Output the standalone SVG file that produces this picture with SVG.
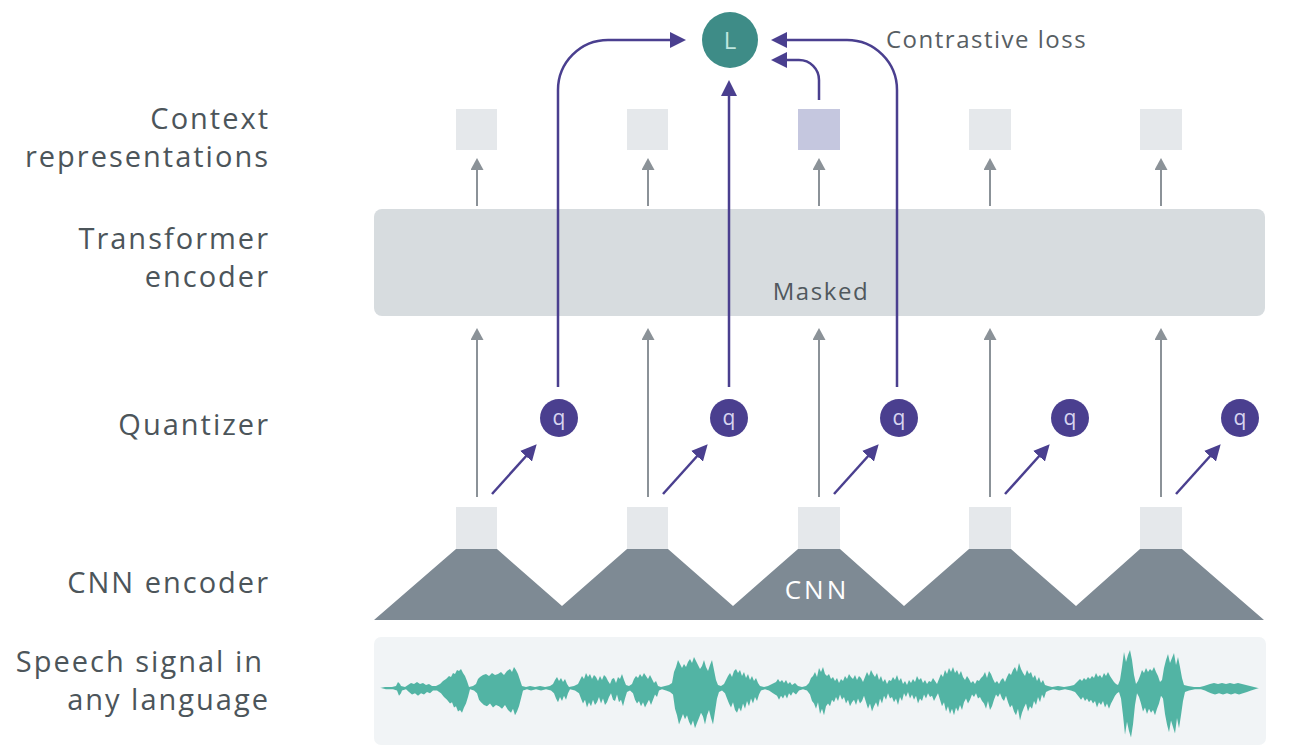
<svg xmlns="http://www.w3.org/2000/svg" width="1300" height="753" viewBox="0 0 1300 753">
<style>
.lbl{font-family:"Open Sans","Liberation Sans",sans-serif;font-size:29px;letter-spacing:2px;fill:#4c555a;text-anchor:end}
.ctx{fill:#e5e8eb}
.ga{stroke:#8b9298;stroke-width:2;fill:none;marker-end:url(#ag)}
.pa{stroke:#4a3f8f;stroke-width:2.5;fill:none;marker-end:url(#ap)}
.qc{fill:#4a3f8f}
.qt{font-family:"Open Sans","Liberation Sans",sans-serif;font-size:21px;fill:#d8d5f0;text-anchor:middle}
</style>
<defs>
<marker id="ag" viewBox="0 0 12 13" refX="2" refY="6.5" markerWidth="12" markerHeight="13" markerUnits="userSpaceOnUse" orient="auto"><path d="M0,0 L12,6.5 L0,13 z" fill="#8b9298"/></marker>
<marker id="ap" viewBox="0 0 16 16" refX="3" refY="8" markerWidth="16" markerHeight="16" markerUnits="userSpaceOnUse" orient="auto"><path d="M0,0 L16,8 L0,16 z" fill="#4a3f8f"/></marker>
<path id="wavehalf" d="M380,688 L385,687 392,687 396,686 398,682 400,684 401,686 405,687 408,685 411,683 414,684 417,682 420,684 423,683 426,685 429,684 432,686 436,686 440,684 443,681 446,679 449,676 451,677 453,673 455,674 457,670 459,671 461,669 463,673 465,676 467,681 469,687 473,686 476,684 478,679 480,677 483,675 486,674 489,676 492,673 495,675 498,674 501,672 504,675 507,671 510,669 512,672 514,667 516,670 518,674 520,680 522,686 526,687 530,686 535,687 540,686 545,687 550,686 553,684 555,680 557,677 559,681 561,678 563,682 565,679 567,684 569,687 574,686 578,684 580,680 582,676 584,679 586,673 588,677 590,674 592,679 594,675 596,677 598,681 600,676 602,680 604,675 606,677 608,681 610,684 612,679 614,678 616,683 618,677 620,679 622,674 624,680 626,685 629,686 632,684 634,679 636,676 638,678 640,674 642,677 644,673 646,676 648,679 650,675 652,679 654,683 656,681 658,686 661,687 665,686 669,685 672,683 674,672 676,667 678,660 680,664 682,668 684,664 686,667 688,662 690,659 692,663 694,657 696,661 698,665 700,669 702,666 704,660 706,667 708,671 710,665 712,660 714,670 716,680 718,685 721,686 724,684 726,680 728,676 730,673 732,677 734,671 736,669 738,673 740,670 742,676 744,672 746,678 748,674 750,680 752,676 754,681 756,678 758,683 760,686 764,687 768,686 772,684 776,682 778,679 780,682 782,680 784,683 786,680 788,684 790,682 792,685 795,683 798,686 802,687 806,686 809,683 811,678 813,676 815,672 817,677 819,668 821,672 823,667 825,674 827,676 829,674 831,679 833,677 835,681 837,678 839,683 841,679 843,681 845,676 847,679 849,674 851,677 853,679 855,675 857,680 859,676 861,678 863,682 865,677 867,672 869,676 871,670 873,674 875,677 877,673 879,680 881,676 883,682 885,679 887,684 889,680 891,681 893,677 895,680 897,675 899,681 901,678 903,684 905,681 907,685 909,680 911,683 913,679 915,682 917,676 919,680 921,678 923,683 925,680 927,684 929,681 931,682 933,678 935,681 937,684 939,679 941,674 943,677 945,670 947,674 949,668 951,672 953,667 955,673 957,670 959,675 961,671 963,677 965,680 967,676 969,679 971,683 973,681 975,684 977,680 979,681 981,678 983,676 985,672 987,678 989,671 991,674 993,679 995,683 997,681 999,684 1001,680 1003,678 1005,682 1007,677 1009,673 1011,675 1013,670 1015,667 1017,672 1019,663 1021,669 1023,673 1025,676 1027,670 1029,674 1031,672 1033,678 1035,675 1037,681 1039,677 1041,683 1043,680 1045,685 1048,686 1052,687 1058,686 1064,687 1070,686 1074,685 1076,683 1078,681 1080,679 1082,681 1084,678 1086,680 1088,677 1090,679 1092,676 1094,678 1096,673 1098,677 1100,675 1102,678 1104,673 1106,676 1108,672 1110,676 1112,679 1114,682 1116,684 1118,685 1120,680 1122,667 1124,652 1126,662 1128,655 1130,650 1132,660 1134,675 1136,684 1138,681 1140,676 1142,670 1144,673 1146,668 1148,672 1150,669 1152,671 1154,667 1156,672 1158,676 1160,682 1162,680 1164,668 1166,660 1168,654 1170,663 1172,658 1174,653 1176,665 1178,657 1180,667 1182,678 1184,685 1188,686 1194,687 1200,687 1204,686 1207,685 1210,684 1214,683 1218,684 1222,683 1226,684 1230,683 1234,684 1238,683 1242,684 1246,685 1250,686 1254,687 1258,688 Z"/>
</defs>
<rect width="1300" height="753" fill="#ffffff"/>

<g id="labels">
<text class="lbl" x="270" y="129">Context</text>
<text class="lbl" x="270" y="167">representations</text>
<text class="lbl" x="270" y="249">Transformer</text>
<text class="lbl" x="270" y="287">encoder</text>
<text class="lbl" x="270" y="435">Quantizer</text>
<text class="lbl" x="270" y="593">CNN encoder</text>
<text class="lbl" x="264" y="672">Speech signal in</text>
<text class="lbl" x="270" y="710">any language</text>
</g>

<g id="speech">
<rect x="374" y="637" width="892" height="108" rx="7" fill="#f1f4f6"/>
<g fill="#52b4a4">
<use href="#wavehalf"/>
<use href="#wavehalf" transform="translate(1,688) scale(1,-1.3) translate(0,-688)"/>
</g>
</g>

<g id="cnn">
<polygon points="374,620 456,549 497,549 562,606 627,549 668,549 733,606 798,549 840,549 904,606 969,549 1011,549 1076,606 1140,549 1182,549 1264,620" fill="#7e8a94"/>
<text x="817" y="599" font-family="Open Sans, Liberation Sans, sans-serif" font-size="26" letter-spacing="3" fill="#ffffff" text-anchor="middle">CNN</text>
</g>
<g id="cnnout">
<rect class="ctx" x="456" y="507" width="41" height="42"/>
<rect class="ctx" x="627" y="507" width="41" height="42"/>
<rect class="ctx" x="798" y="507" width="42" height="42"/>
<rect class="ctx" x="969" y="507" width="42" height="42"/>
<rect class="ctx" x="1140" y="507" width="42" height="42"/>
</g>

<g id="transformer">
<rect x="374" y="209" width="891" height="107" rx="8" fill="#d7dcdf"/>
<text x="821" y="300" font-family="Open Sans, Liberation Sans, sans-serif" font-size="24" letter-spacing="1.6" fill="#50585d" text-anchor="middle">Masked</text>
</g>

<g id="context">
<rect class="ctx" x="456" y="109" width="41" height="41"/>
<rect class="ctx" x="627" y="109" width="41" height="41"/>
<rect x="798" y="109" width="42" height="41" fill="#c5c7df"/>
<rect class="ctx" x="969" y="109" width="42" height="41"/>
<rect class="ctx" x="1140" y="109" width="42" height="41"/>
</g>

<g id="quantizers">
<circle class="qc" cx="559" cy="418" r="19"/><text class="qt" x="559" y="425">q</text>
<circle class="qc" cx="729" cy="418" r="19"/><text class="qt" x="729" y="425">q</text>
<circle class="qc" cx="899" cy="418" r="19"/><text class="qt" x="899" y="425">q</text>
<circle class="qc" cx="1070" cy="418" r="19"/><text class="qt" x="1070" y="425">q</text>
<circle class="qc" cx="1240" cy="418" r="19"/><text class="qt" x="1240" y="425">q</text>
</g>

<g id="loss">
<circle cx="730" cy="40" r="28" fill="#3e8c87"/>
<text x="730" y="49" font-family="Open Sans, Liberation Sans, sans-serif" font-size="24" fill="#bfe6df" text-anchor="middle">L</text>
<text x="886" y="48" font-family="Open Sans, Liberation Sans, sans-serif" font-size="24" letter-spacing="1.5" fill="#575e63">Contrastive loss</text>
</g>

<g id="connectors">
<path class="ga" d="M477,206 V168"/>
<path class="ga" d="M648,206 V168"/>
<path class="ga" d="M819,206 V168"/>
<path class="ga" d="M990,206 V168"/>
<path class="ga" d="M1161,206 V168"/>
<path class="ga" d="M477,497 V338"/>
<path class="ga" d="M648,497 V338"/>
<path class="ga" d="M819,497 V338"/>
<path class="ga" d="M990,497 V338"/>
<path class="ga" d="M1161,497 V338"/>
<path class="pa" d="M492,494 L528,454"/>
<path class="pa" d="M663,494 L699,454"/>
<path class="pa" d="M834,494 L870,454"/>
<path class="pa" d="M1005,494 L1041,454"/>
<path class="pa" d="M1176,494 L1212,454"/>
<path class="pa" d="M558,387 V90 A50,50 0 0 1 608,40 H673"/>
<path class="pa" d="M729,387 V93"/>
<path class="pa" d="M897,387 V90 A50,50 0 0 0 847,40 H784"/>
<path class="pa" d="M819,100 V80 A20,20 0 0 0 799,60 H784"/>
</g>
</svg>
